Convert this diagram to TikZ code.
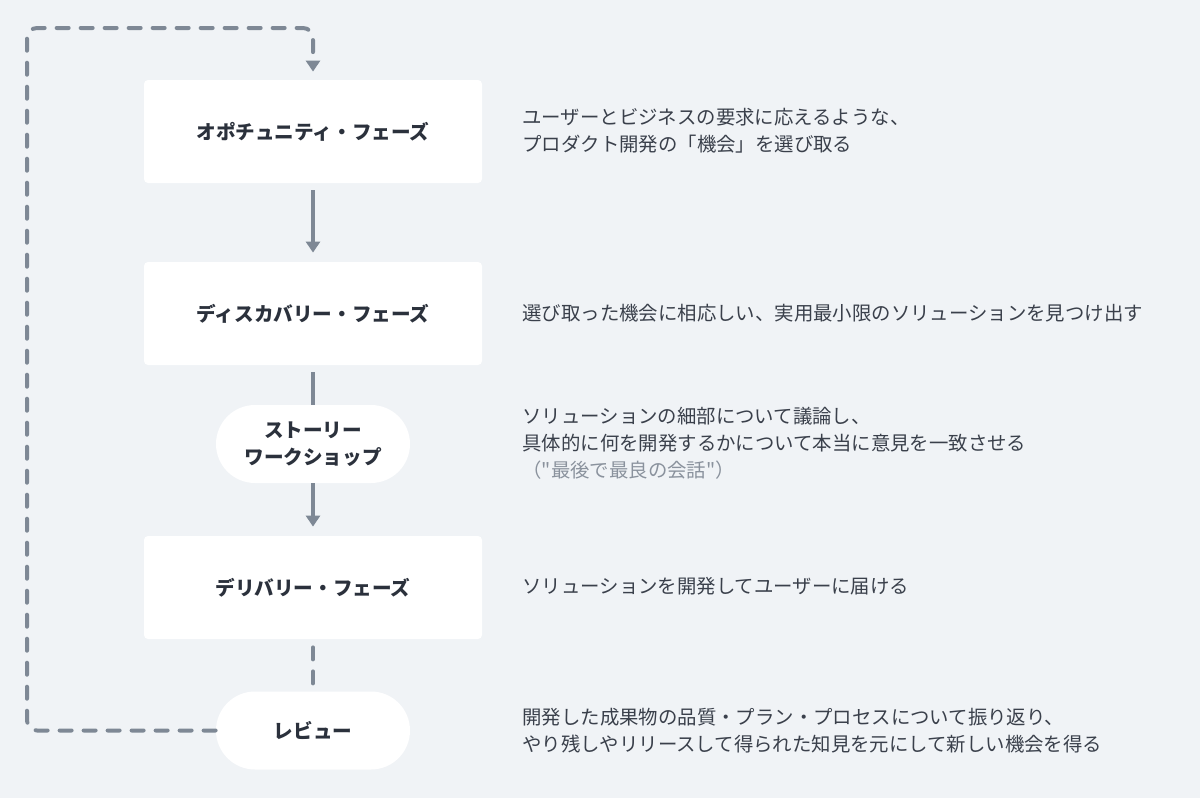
\documentclass[tikz,border=0pt]{standalone}
\usepackage{fontspec}
\setmainfont{Noto Sans CJK JP}[Ligatures=TeXOff]
\usepackage{tikz}
\usetikzlibrary{arrows.meta}
\definecolor{bgpaper}{HTML}{F0F3F6}
\definecolor{inkdark}{HTML}{2B313C}
\definecolor{inktext}{HTML}{3A404B}
\definecolor{inkmuted}{HTML}{8A929D}
\definecolor{linegray}{HTML}{7E8895}
\tikzset{%
	phase box/.style={
		rectangle,
		fill=white,
		rounded corners=2pt,
		minimum width=169pt,
		minimum height=51.5pt,
		font=\fontsize{9.8pt}{13pt}\selectfont\bfseries,
		text=inkdark
	},
	event pill/.style={
		rectangle,
		fill=white,
		rounded corners=19.5pt,
		minimum width=97pt,
		minimum height=39pt,
		align=center,
		font=\fontsize{9.8pt}{13.5pt}\selectfont\bfseries,
		text=inkdark
	},
	phase note/.style={
		anchor=west,
		align=left,
		inner xsep=0pt,
		font=\fontsize{9.7pt}{13.5pt}\selectfont,
		text=inktext
	},
	flow arrow/.style={
		draw=linegray,
		line width=2pt,
		-{Triangle[width=7pt,length=5.5pt]}
	},
	flow link/.style={
		draw=linegray,
		line width=2pt
	},
	loop line/.style={
		draw=linegray,
		line width=2pt,
		line cap=round,
		dash pattern=on 6pt off 6pt
	},
}
\begin{document}
\begin{tikzpicture}[x=0.5pt,y=-0.5pt]
			
			\fill[bgpaper] (0,0) rectangle (1200,798);
			\useasboundingbox (0,0) rectangle (1200,798);
			
			\node[phase box] (opp) at (313,131.5) {オポチュニティ・フェーズ};
			\node[phase box] (disc) at (313,313.5) {ディスカバリー・フェーズ};
			\node[event pill] (story) at (313,444) {ストーリー\\ワークショップ};
			\node[phase box] (deliv) at (313,587.5) {デリバリー・フェーズ};
			\node[event pill] (review) at (313,730.5) {レビュー};
			
			\node[phase note] (opp note) at (522,130.5) {ユーザーとビジネスの要求に応えるような、\\プロダクト開発の「機会」を選び取る};
			\node[phase note] (disc note) at (522,313) {選び取った機会に相応しい、実用最小限のソリューションを見つけ出す};
			\node[phase note] (story note) at (522,443) {ソリューションの細部について議論し、\\具体的に何を開発するかについて本当に意見を一致させる\\{\color{inkmuted}（"最後で最良の会話"）}};
			\node[phase note] (deliv note) at (522,586) {ソリューションを開発してユーザーに届ける};
			\node[phase note] (review note) at (522,730.5) {開発した成果物の品質・プラン・プロセスについて振り返り、\\やり残しやリリースして得られた知見を元にして新しい機会を得る};
			
			\draw[flow arrow] ([yshift=-3.5pt]opp.south) -- ([yshift=4.5pt]disc.north);
			\draw[flow link] ([yshift=-3.5pt]disc.south) -- (story.north);
			\draw[flow arrow] (story.south) -- ([yshift=4.5pt]deliv.north);
			\draw[loop line] ([yshift=-4pt]deliv.south) -- (review.north);
			
			\coordinate (loop corner) at (27,28);
			\draw[loop line, rounded corners=5pt, -{Triangle[width=7pt,length=5.5pt]}] (review.west) -| (loop corner) -| ([yshift=4pt]opp.north);
		\end{tikzpicture}
\end{document}
